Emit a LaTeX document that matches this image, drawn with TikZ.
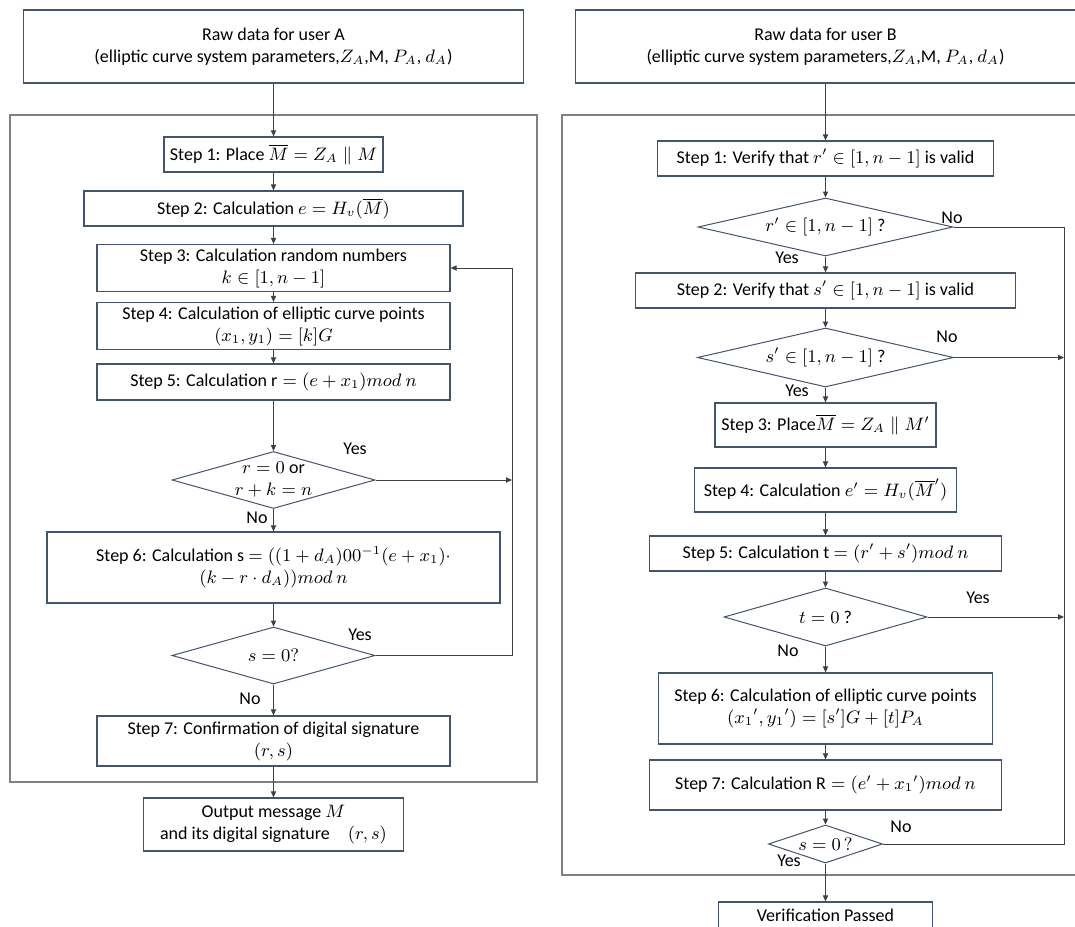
\documentclass[tikz,border=0pt]{standalone}
\usepackage{amsmath,amssymb}
\usepackage{fontspec}
\setmainfont{Carlito}
\usepackage{tikz}
\usetikzlibrary{shapes.geometric,arrows.meta,calc}

\definecolor{boxblue}{RGB}{68,84,106}
\definecolor{framegray}{RGB}{128,128,128}
\definecolor{linegray}{RGB}{64,64,64}
\newcommand{\flowfont}{\fontsize{9}{11}\selectfont}

\begin{document}
\begin{tikzpicture}[x=0.5pt,y=-0.5pt,
		stepbox/.style 2 args={draw=boxblue,line width=0.6pt,fill=white,align=center,inner sep=2pt,font=\flowfont,minimum width=#1pt,minimum height=#2pt},
		test/.style 2 args={diamond,draw=boxblue,line width=0.5pt,fill=white,inner sep=0pt,minimum width=#1pt,minimum height=#2pt},
		intext/.style={font=\flowfont,align=center,inner sep=0pt},
		frame/.style={draw=framegray,line width=0.9pt},
		flow/.style={draw=linegray,line width=0.5pt,-{Triangle[length=3pt,width=2.6pt]}},
		link/.style={draw=linegray,line width=0.5pt},
		answer/.style={font=\flowfont,inner sep=0pt}]
			\clip (0,0) rectangle (1075,926);
			
			% frames round the two procedures
			\draw[frame] (10,115) rectangle (537,782);
			\draw[frame] (562,115) rectangle (1090,875);
			
			% signature (user A)
			\node[stepbox={250}{36.5}] (rawA) at (273.5,46.5) {Raw data for user A\\(elliptic curve system parameters,$Z_A$,M, $P_A$, $d_A$)};
			\node[stepbox={109.5}{17.5}] (a1) at (273.5,154.5) {Step 1: Place $\overline{M}=Z_A\parallel M$};
			\node[stepbox={189.5}{17.5}] (a2) at (273.5,208.5) {Step 2: Calculation $e=H_v(\overline{M})$};
			\node[stepbox={176.5}{22}] (a3) at (273.5,268) {Step 3: Calculation random numbers\\$k\in[1,n-1]$};
			\node[stepbox={176.5}{22}] (a4) at (273.5,326) {Step 4: Calculation of elliptic curve points\\$(x_1,y_1)=[k]G$};
			\node[stepbox={176.5}{18}] (a5) at (273.5,382) {Step 5: Calculation $\mathrm{r}=(e+x_1)mod\ n$};
			\node[test={101.5}{28.5},label={[intext]center:{$r=0$ or\\$r+k=n$}}] (d1) at (273.5,480) {};
			\node[stepbox={226.5}{35.5}] (a6) at (273.5,567.5) {Step 6: Calculation s $=((1+d_A)00^{-1}(e+x_1)\cdot$\\$(k-r\cdot d_A))mod\ n$};
			\node[test={101.5}{28.5},label={[intext]center:{$s=0?$}}] (d2) at (273.5,655.5) {};
			\node[stepbox={176.5}{25}] (a7) at (273.5,741) {Step 7: Confirmation of digital signature\\$(r,s)$};
			\node[stepbox={130}{26.5}] (outA) at (273.5,824.5) {Output message $M$\\and its digital signature\quad$(r,s)$};
			
			\coordinate (loopA) at (512,655.5);
			
			\draw[flow] (rawA) -- (a1);
			\draw[flow] (a1) -- (a2);
			\draw[flow] (a2) -- (a3);
			\draw[flow] (a3) -- (a4);
			\draw[flow] (a4) -- (a5);
			\draw[flow] (a5) -- (d1.north);
			\draw[flow] (d1.south) -- (a6);
			\draw[flow] (a6) -- (d2.north);
			\draw[flow] (d2.south) -- (a7);
			\draw[flow] (a7) -- (outA);
			\draw[flow] (d1.east) -- (d1.east -| loopA);
			\draw[flow] (d2.east) -- (loopA) |- (a3.east);
			
			\node[answer] (yesA1) at (355,449) {Yes};
			\node[answer] (noA1) at (257,518) {No};
			\node[answer] (yesA2) at (360,635) {Yes};
			\node[answer] (noA2) at (250,699) {No};
			
			% verification (user B)
			\node[stepbox={250}{36.5}] (rawB) at (825.5,46.5) {Raw data for user B\\(elliptic curve system parameters,$Z_A$,M, $P_A$, $d_A$)};
			\node[stepbox={168}{17.5}] (b1) at (825.5,158.5) {Step 1: Verify that $r'\in[1,n-1]$ is valid};
			\node[test={127.5}{29},label={[intext]center:{$r'\in[1,n-1]$ ?}}] (e1) at (825.5,227) {};
			\node[stepbox={190}{17.5}] (b2) at (825.5,290.5) {Step 2: Verify that $s'\in[1,n-1]$ is valid};
			\node[test={128}{29.5},label={[intext]center:{$s'\in[1,n-1]$ ?}}] (e2) at (825.5,357.5) {};
			\node[stepbox={110.5}{22}] (b3) at (825.5,425) {Step 3: Place$\overline{M}=Z_A\parallel M'$};
			\node[stepbox={131}{22}] (b4) at (825.5,490) {Step 4: Calculation $e'=H_v(\overline{M}')$};
			\node[stepbox={176}{17.5}] (b5) at (825.5,553.5) {Step 5: Calculation t $=(r'+s')mod\ n$};
			\node[test={101.5}{29},label={[intext]center:{$t=0$ ?}}] (e3) at (825.5,617) {};
			\node[stepbox={167}{35.5}] (b6) at (825.5,708.5) {Step 6: Calculation of elliptic curve points\\$({x_1}',{y_1}')=[s']G+[t]P_A$};
			\node[stepbox={176}{25}] (b7) at (825.5,785) {Step 7: Calculation $\mathrm{R}=(e'+{x_1}')mod\ n$};
			\node[test={57}{19},label={[intext]center:{$s=0\,?$}}] (e4) at (825.5,844) {};
			\node[stepbox={107}{13}] (okB) at (825.5,915) {Verification Passed};
			
			\coordinate (loopB) at (1064,844);
			
			\draw[flow] (rawB) -- (b1);
			\draw[flow] (b1) -- (e1.north);
			\draw[flow] (e1.south) -- (b2);
			\draw[flow] (b2) -- (e2.north);
			\draw[flow] (e2.south) -- (b3);
			\draw[flow] (b3) -- (b4);
			\draw[flow] (b4) -- (b5);
			\draw[flow] (b5) -- (e3.north);
			\draw[flow] (e3.south) -- (b6);
			\draw[flow] (b6) -- (b7);
			\draw[flow] (b7) -- (e4.north);
			\draw[flow] (e4.south) -- (okB);
			\draw[link] (e1.east) -| (loopB) -- (e4.east);
			\draw[flow] (e2.east) -- (e2.east -| loopB);
			\draw[flow] (e3.east) -- (e3.east -| loopB);
			
			\node[answer] (noB1) at (952,218) {No};
			\node[answer] (yesB1) at (787,258) {Yes};
			\node[answer] (noB2) at (947,337) {No};
			\node[answer] (yesB2) at (797,391) {Yes};
			\node[answer] (yesB3) at (978,598) {Yes};
			\node[answer] (noB3) at (788,651) {No};
			\node[answer] (noB4) at (901,827) {No};
			\node[answer] (yesB4) at (789,861) {Yes};
			
		\end{tikzpicture}
\end{document}
